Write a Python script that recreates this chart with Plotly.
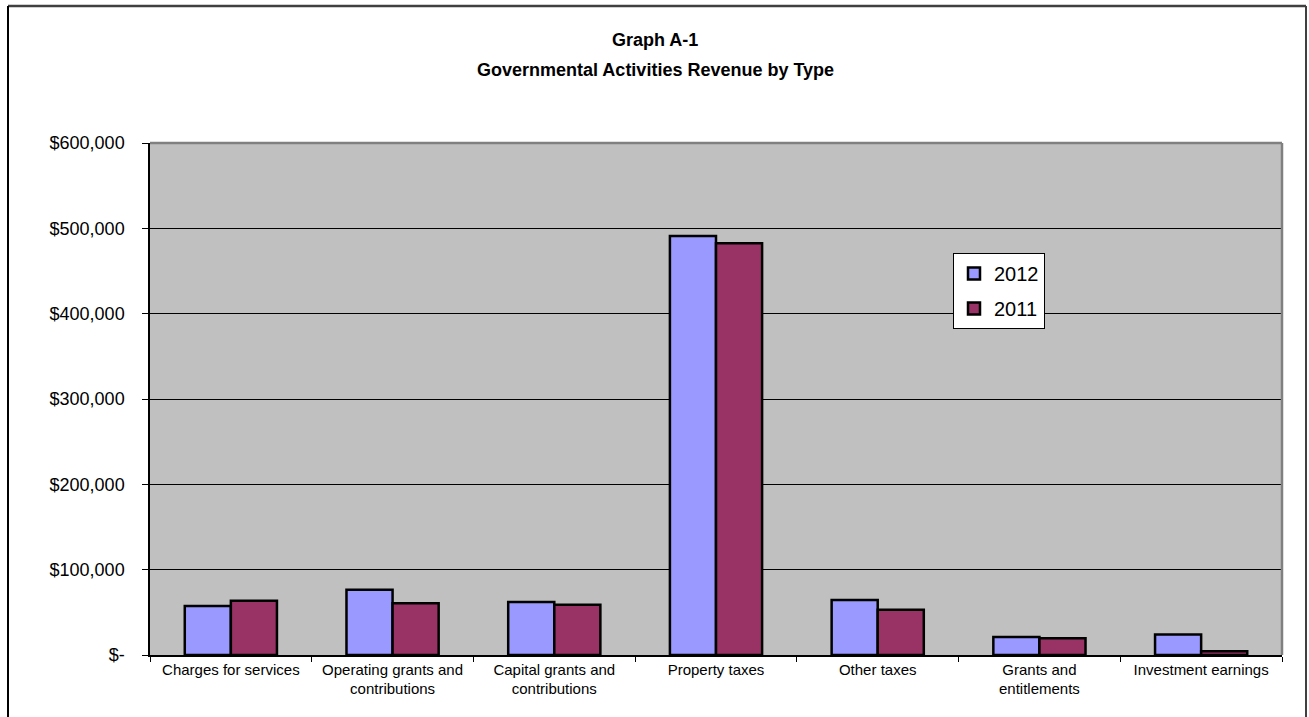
import plotly.graph_objects as go

# Revenue categories (x-axis) and values in dollars for each fiscal year
categories = [
    "Charges for services",
    "Operating grants and<br>contributions",
    "Capital grants and<br>contributions",
    "Property taxes",
    "Other taxes",
    "Grants and<br>entitlements",
    "Investment earnings",
]
revenue_2012 = [57500, 76500, 62000, 491000, 64500, 21000, 24000]
revenue_2011 = [63500, 60500, 59000, 482500, 53000, 19500, 4300]

y_tickvals = [0, 100000, 200000, 300000, 400000, 500000, 600000]
y_ticktext = ["$-", "$100,000", "$200,000", "$300,000", "$400,000", "$500,000", "$600,000"]

FONT = "Arial, Liberation Sans, sans-serif"

fig = go.Figure()
fig.add_trace(go.Bar(
    name="2012", x=categories, y=revenue_2012, legendgroup="a",
    marker=dict(color="#9999FF", line=dict(color="#000000", width=2.5)),
))
fig.add_trace(go.Bar(
    name="2011", x=categories, y=revenue_2011, legendgroup="b",
    marker=dict(color="#993366", line=dict(color="#000000", width=2.5)),
))

W, H = 1309, 717
L, R, T, B = 150, 27, 143, 62
pw, ph = W - L - R, H - T - B


def px_x(px):
    return (px - L) / pw


def px_y(py):
    return (H - B - py) / ph


fig.update_layout(
    width=W, height=H,
    margin=dict(l=L, r=R, t=T, b=B),
    paper_bgcolor="#FFFFFF",
    plot_bgcolor="#C0C0C0",
    barmode="group",
    bargap=0.43,
    bargroupgap=0,
    font=dict(family=FONT, color="#000000"),
    showlegend=True,
    legend=dict(
        x=px_x(953), y=px_y(253), xanchor="left", yanchor="top",
        bgcolor="#FFFFFF", bordercolor="#000000", borderwidth=1,
        font=dict(size=20, family=FONT, color="#000000"),
        traceorder="grouped", tracegroupgap=6,
    ),
    xaxis=dict(
        type="category",
        tickson="boundaries",
        ticks="outside", ticklen=5, tickcolor="#000000", tickwidth=1,
        showline=True, linecolor="#000000", linewidth=1.5,
        tickfont=dict(size=15, family=FONT, color="#000000"),
        showgrid=False,
    ),
    yaxis=dict(
        range=[0, 600000],
        tickvals=y_tickvals, ticktext=y_ticktext,
        ticks="outside", ticklen=6, tickcolor="#000000", tickwidth=1,
        showline=True, linecolor="#000000", linewidth=1.5,
        showgrid=True, gridcolor="#000000", gridwidth=1,
        zeroline=False,
        tickfont=dict(size=18, family=FONT, color="#000000"),
        ticklabelstandoff=14,
    ),
    annotations=[
        dict(text="<b>Graph A-1</b>", xref="paper", yref="paper",
             x=px_x(655), y=px_y(40), xanchor="center", yanchor="middle",
             showarrow=False, font=dict(size=18, family=FONT, color="#000000")),
        dict(text="<b>Governmental Activities Revenue by Type</b>", xref="paper", yref="paper",
             x=px_x(655), y=px_y(70), xanchor="center", yanchor="middle",
             showarrow=False, font=dict(size=18, family=FONT, color="#000000")),
    ],
    shapes=[
        # gray border along the top and right of the plot area
        dict(type="line", xref="paper", yref="paper", x0=0, x1=1, y0=1, y1=1,
             line=dict(color="#808080", width=2.5)),
        dict(type="line", xref="paper", yref="paper", x0=1, x1=1, y0=0, y1=1,
             line=dict(color="#808080", width=2.5)),
        # outer chart frame
        dict(type="line", xref="paper", yref="paper", x0=px_x(8), x1=px_x(1306),
             y0=px_y(6), y1=px_y(6), line=dict(color="#404040", width=2.5)),
        dict(type="line", xref="paper", yref="paper", x0=px_x(8), x1=px_x(8),
             y0=px_y(6), y1=px_y(730), line=dict(color="#000000", width=2)),
        dict(type="line", xref="paper", yref="paper", x0=px_x(1306), x1=px_x(1306),
             y0=px_y(6), y1=px_y(730), line=dict(color="#404040", width=2)),
    ],
)

fig.write_html("out.html")
